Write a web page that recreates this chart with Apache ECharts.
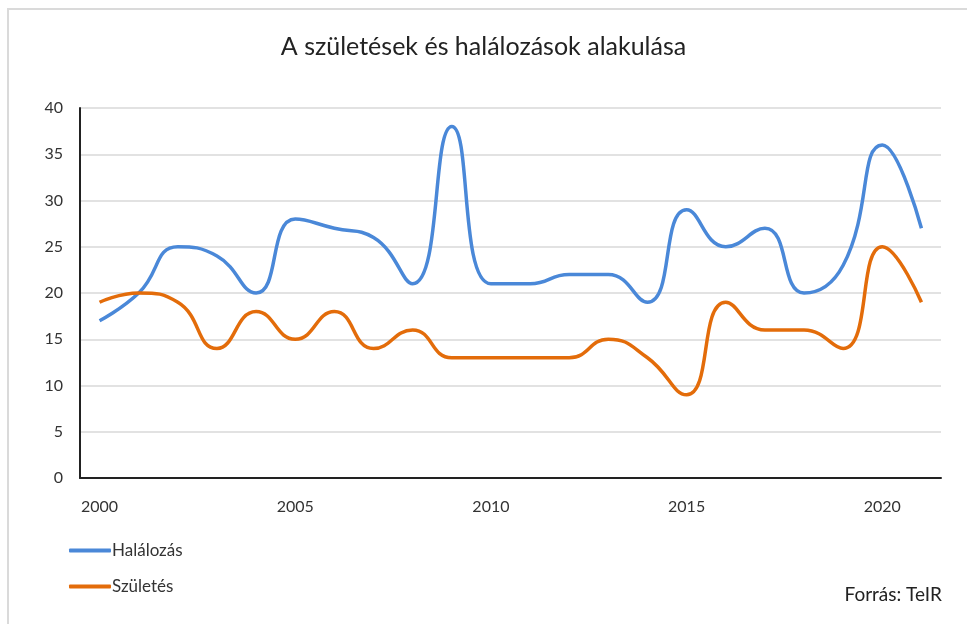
<!DOCTYPE html>
<html>
<head>
<meta charset="utf-8">
<script src="https://cdn.jsdelivr.net/npm/echarts@6/dist/echarts.min.js"></script>
<style>
  html, body { margin: 0; padding: 0; background: #fff; }
  #chart { width: 967px; height: 624px; }
</style>
</head>
<body>
<div id="chart"></div>
<script>
  // évek
  var years = ['2000', '2001', '2002', '2003', '2004', '2005', '2006', '2007', '2008', '2009', '2010',
    '2011', '2012', '2013', '2014', '2015', '2016', '2017', '2018', '2019', '2020', '2021'];
  var halalozas = [17, 20, 25, 24, 20, 28, 27, 26, 21, 38, 21, 21, 22, 22, 19, 29, 25, 27, 20, 23, 36, 27];
  var szuletes = [19, 20, 19, 14, 18, 15, 18, 14, 16, 13, 13, 13, 13, 15, 13, 9, 19, 16, 16, 14, 25, 19];
  var yTicks = [0, 5, 10, 15, 20, 25, 30, 35, 40];

  var chart = echarts.init(document.getElementById('chart'));
  var font = 'Lato';

  var option = {
    backgroundColor: '#fff',
    animation: false,
    title: {
      text: 'A születések és halálozások alakulása',
      left: 'center',
      top: 29,
      textStyle: {fontFamily: font, fontSize: 25, fontWeight: 'normal', color: '#222'}
    },
    legend: {
      orient: 'vertical',
      left: 69,
      top: 542,
      padding: 0,
      itemWidth: 42,
      itemHeight: 4,
      itemGap: 19,
      icon: 'roundRect',
      textStyle: {fontFamily: font, fontSize: 17, color: '#333', padding: [0, 0, 0, -4]},
      data: ['Halálozás', 'Születés']
    },
    graphic: [
      {
        type: 'rect',
        shape: {x: 8, y: 9, width: 1000, height: 700},
        style: {fill: 'none', stroke: '#dadada', lineWidth: 2}
      },
      {
        type: 'text',
        right: 25,
        top: 585,
        style: {text: 'Forrás: TeIR', fontFamily: font, fontSize: 19, fill: '#222'}
      }
    ],
    grid: {left: 80, right: 26, top: 108, bottom: 146},
    xAxis: {
      type: 'category',
      data: years,
      boundaryGap: true,
      axisLine: {lineStyle: {color: '#222', width: 2}},
      axisTick: {show: false},
      axisLabel: {interval: 4, fontFamily: font, fontSize: 16, color: '#333', margin: 21},
      splitLine: {show: false}
    },
    yAxis: {
      type: 'value',
      min: yTicks[0],
      max: yTicks[yTicks.length - 1],
      interval: 5,
      axisLine: {show: true, lineStyle: {color: '#222', width: 2}},
      axisTick: {show: false},
      axisLabel: {fontFamily: font, fontSize: 16, color: '#333', margin: 17},
      splitLine: {lineStyle: {color: '#d9d9d9', width: 1.5}}
    },
    series: [
      {
        name: 'Halálozás',
        type: 'line',
        data: halalozas,
        smooth: 0.5,
        symbol: 'none',
        color: '#4a88d8',
        lineStyle: {width: 3.5}
      },
      {
        name: 'Születés',
        type: 'line',
        data: szuletes,
        smooth: 0.5,
        symbol: 'none',
        color: '#e36c0a',
        lineStyle: {width: 3.5}
      }
    ]
  };

  chart.setOption(option);
</script>
</body>
</html>
